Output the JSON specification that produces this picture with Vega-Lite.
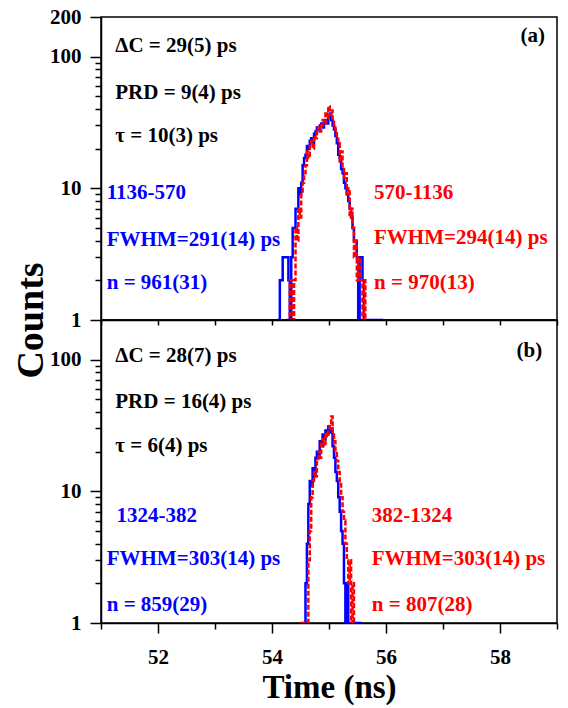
{
  "$schema": "https://vega.github.io/schema/vega-lite/v6.json",
  "padding": {"left": 11, "top": 5, "right": 8, "bottom": 2},
  "bounds": "flush",
  "spacing": 0,
  "config": {
    "font": "Liberation Serif",
    "view": {"stroke": "black", "strokeWidth": 1.5},
    "axis": {"grid": false, "domainColor": "black", "domainWidth": 1.5, "tickColor": "black", "tickWidth": 1.5, "labelFont": "Liberation Serif", "labelFontWeight": "bold", "labelFontSize": 21, "labelColor": "black", "titleFont": "Liberation Serif", "titleFontWeight": "bold", "titleFontSize": 33, "titleColor": "black", "labelOverlap": false, "labelFlush": false, "labelBound": false}
  },
  "datasets": {
    "top": [
      {"t":54.1,"c":1,"s":"1136-570"},{"t":54.125,"c":1,"s":"1136-570"},{"t":54.15,"c":2,"s":"1136-570"},{"t":54.175,"c":2,"s":"1136-570"},{"t":54.2,"c":3,"s":"1136-570"},{"t":54.225,"c":3,"s":"1136-570"},{"t":54.25,"c":3,"s":"1136-570"},{"t":54.275,"c":3,"s":"1136-570"},{"t":54.3,"c":2,"s":"1136-570"},{"t":54.325,"c":1,"s":"1136-570"},{"t":54.35,"c":3,"s":"1136-570"},{"t":54.375,"c":5,"s":"1136-570"},{"t":54.4,"c":5,"s":"1136-570"},{"t":54.425,"c":7,"s":"1136-570"},{"t":54.45,"c":7,"s":"1136-570"},{"t":54.475,"c":10,"s":"1136-570"},{"t":54.5,"c":9,"s":"1136-570"},{"t":54.525,"c":11,"s":"1136-570"},{"t":54.55,"c":15,"s":"1136-570"},{"t":54.575,"c":17,"s":"1136-570"},{"t":54.6,"c":18,"s":"1136-570"},{"t":54.625,"c":21,"s":"1136-570"},{"t":54.65,"c":20,"s":"1136-570"},{"t":54.675,"c":23,"s":"1136-570"},{"t":54.7,"c":24,"s":"1136-570"},{"t":54.725,"c":22,"s":"1136-570"},{"t":54.75,"c":26,"s":"1136-570"},{"t":54.775,"c":27,"s":"1136-570"},{"t":54.8,"c":29,"s":"1136-570"},{"t":54.825,"c":28,"s":"1136-570"},{"t":54.85,"c":30,"s":"1136-570"},{"t":54.875,"c":31,"s":"1136-570"},{"t":54.9,"c":29,"s":"1136-570"},{"t":54.925,"c":32,"s":"1136-570"},{"t":54.95,"c":33,"s":"1136-570"},{"t":54.975,"c":31,"s":"1136-570"},{"t":55.0,"c":35,"s":"1136-570"},{"t":55.025,"c":37,"s":"1136-570"},{"t":55.05,"c":33,"s":"1136-570"},{"t":55.075,"c":30,"s":"1136-570"},{"t":55.1,"c":28,"s":"1136-570"},{"t":55.125,"c":25,"s":"1136-570"},{"t":55.15,"c":22,"s":"1136-570"},{"t":55.175,"c":18,"s":"1136-570"},{"t":55.2,"c":17,"s":"1136-570"},{"t":55.225,"c":14,"s":"1136-570"},{"t":55.25,"c":13,"s":"1136-570"},{"t":55.275,"c":11,"s":"1136-570"},{"t":55.3,"c":10,"s":"1136-570"},{"t":55.325,"c":9,"s":"1136-570"},{"t":55.35,"c":8,"s":"1136-570"},{"t":55.375,"c":7,"s":"1136-570"},{"t":55.4,"c":6,"s":"1136-570"},{"t":55.425,"c":5,"s":"1136-570"},{"t":55.45,"c":4,"s":"1136-570"},{"t":55.475,"c":4,"s":"1136-570"},{"t":55.5,"c":3,"s":"1136-570"},{"t":55.525,"c":1,"s":"1136-570"},{"t":55.55,"c":3,"s":"1136-570"},{"t":55.575,"c":3,"s":"1136-570"},{"t":55.6,"c":2,"s":"1136-570"},{"t":55.625,"c":1,"s":"1136-570"},{"t":55.65,"c":1,"s":"1136-570"},{"t":55.8,"c":1,"s":"1136-570"},{"t":55.95,"c":1,"s":"1136-570"},
      {"t":54.25,"c":1,"s":"570-1136"},{"t":54.275,"c":1,"s":"570-1136"},{"t":54.3,"c":1,"s":"570-1136"},{"t":54.325,"c":2,"s":"570-1136"},{"t":54.35,"c":2,"s":"570-1136"},{"t":54.375,"c":1,"s":"570-1136"},{"t":54.4,"c":2,"s":"570-1136"},{"t":54.425,"c":5,"s":"570-1136"},{"t":54.45,"c":4,"s":"570-1136"},{"t":54.475,"c":7,"s":"570-1136"},{"t":54.5,"c":6,"s":"570-1136"},{"t":54.525,"c":9,"s":"570-1136"},{"t":54.55,"c":11,"s":"570-1136"},{"t":54.575,"c":13,"s":"570-1136"},{"t":54.6,"c":15,"s":"570-1136"},{"t":54.625,"c":19,"s":"570-1136"},{"t":54.65,"c":17,"s":"570-1136"},{"t":54.675,"c":21,"s":"570-1136"},{"t":54.7,"c":23,"s":"570-1136"},{"t":54.725,"c":20,"s":"570-1136"},{"t":54.75,"c":25,"s":"570-1136"},{"t":54.775,"c":24,"s":"570-1136"},{"t":54.8,"c":27,"s":"570-1136"},{"t":54.825,"c":29,"s":"570-1136"},{"t":54.85,"c":27,"s":"570-1136"},{"t":54.875,"c":30,"s":"570-1136"},{"t":54.9,"c":33,"s":"570-1136"},{"t":54.925,"c":31,"s":"570-1136"},{"t":54.95,"c":38,"s":"570-1136"},{"t":54.975,"c":34,"s":"570-1136"},{"t":55.0,"c":42,"s":"570-1136"},{"t":55.025,"c":36,"s":"570-1136"},{"t":55.05,"c":39,"s":"570-1136"},{"t":55.075,"c":32,"s":"570-1136"},{"t":55.1,"c":30,"s":"570-1136"},{"t":55.125,"c":27,"s":"570-1136"},{"t":55.15,"c":25,"s":"570-1136"},{"t":55.175,"c":22,"s":"570-1136"},{"t":55.2,"c":16,"s":"570-1136"},{"t":55.225,"c":19,"s":"570-1136"},{"t":55.25,"c":14,"s":"570-1136"},{"t":55.275,"c":12,"s":"570-1136"},{"t":55.3,"c":13,"s":"570-1136"},{"t":55.325,"c":9,"s":"570-1136"},{"t":55.35,"c":10,"s":"570-1136"},{"t":55.375,"c":6,"s":"570-1136"},{"t":55.4,"c":7,"s":"570-1136"},{"t":55.425,"c":5,"s":"570-1136"},{"t":55.45,"c":3,"s":"570-1136"},{"t":55.475,"c":4,"s":"570-1136"},{"t":55.5,"c":2,"s":"570-1136"},{"t":55.525,"c":3,"s":"570-1136"},{"t":55.55,"c":2,"s":"570-1136"},{"t":55.575,"c":2,"s":"570-1136"},{"t":55.6,"c":1,"s":"570-1136"},{"t":55.625,"c":2,"s":"570-1136"},{"t":55.65,"c":1,"s":"570-1136"}
    ],
    "bottom": [
      {"t":54.55,"c":1,"s":"1324-382"},{"t":54.575,"c":1,"s":"1324-382"},{"t":54.6,"c":2,"s":"1324-382"},{"t":54.625,"c":4,"s":"1324-382"},{"t":54.65,"c":8,"s":"1324-382"},{"t":54.675,"c":12,"s":"1324-382"},{"t":54.7,"c":11,"s":"1324-382"},{"t":54.725,"c":15,"s":"1324-382"},{"t":54.75,"c":13,"s":"1324-382"},{"t":54.775,"c":18,"s":"1324-382"},{"t":54.8,"c":20,"s":"1324-382"},{"t":54.825,"c":19,"s":"1324-382"},{"t":54.85,"c":24,"s":"1324-382"},{"t":54.875,"c":22,"s":"1324-382"},{"t":54.9,"c":27,"s":"1324-382"},{"t":54.925,"c":25,"s":"1324-382"},{"t":54.95,"c":29,"s":"1324-382"},{"t":54.975,"c":27,"s":"1324-382"},{"t":55.0,"c":31,"s":"1324-382"},{"t":55.025,"c":28,"s":"1324-382"},{"t":55.05,"c":30,"s":"1324-382"},{"t":55.075,"c":22,"s":"1324-382"},{"t":55.1,"c":18,"s":"1324-382"},{"t":55.125,"c":14,"s":"1324-382"},{"t":55.15,"c":12,"s":"1324-382"},{"t":55.175,"c":9,"s":"1324-382"},{"t":55.2,"c":7,"s":"1324-382"},{"t":55.225,"c":5,"s":"1324-382"},{"t":55.25,"c":4,"s":"1324-382"},{"t":55.275,"c":2,"s":"1324-382"},{"t":55.3,"c":1,"s":"1324-382"},{"t":55.325,"c":2,"s":"1324-382"},{"t":55.35,"c":1,"s":"1324-382"},{"t":55.575,"c":1,"s":"1324-382"},
      {"t":54.5,"c":1,"s":"382-1324"},{"t":54.625,"c":1,"s":"382-1324"},{"t":54.65,"c":3,"s":"382-1324"},{"t":54.675,"c":5,"s":"382-1324"},{"t":54.7,"c":9,"s":"382-1324"},{"t":54.725,"c":12,"s":"382-1324"},{"t":54.75,"c":14,"s":"382-1324"},{"t":54.775,"c":13,"s":"382-1324"},{"t":54.8,"c":17,"s":"382-1324"},{"t":54.825,"c":20,"s":"382-1324"},{"t":54.85,"c":18,"s":"382-1324"},{"t":54.875,"c":23,"s":"382-1324"},{"t":54.9,"c":25,"s":"382-1324"},{"t":54.925,"c":22,"s":"382-1324"},{"t":54.95,"c":28,"s":"382-1324"},{"t":54.975,"c":26,"s":"382-1324"},{"t":55.0,"c":30,"s":"382-1324"},{"t":55.025,"c":33,"s":"382-1324"},{"t":55.05,"c":37,"s":"382-1324"},{"t":55.075,"c":27,"s":"382-1324"},{"t":55.1,"c":24,"s":"382-1324"},{"t":55.125,"c":20,"s":"382-1324"},{"t":55.15,"c":17,"s":"382-1324"},{"t":55.175,"c":14,"s":"382-1324"},{"t":55.2,"c":12,"s":"382-1324"},{"t":55.225,"c":9,"s":"382-1324"},{"t":55.25,"c":7,"s":"382-1324"},{"t":55.275,"c":6,"s":"382-1324"},{"t":55.3,"c":4,"s":"382-1324"},{"t":55.325,"c":3,"s":"382-1324"},{"t":55.35,"c":2,"s":"382-1324"},{"t":55.375,"c":3,"s":"382-1324"},{"t":55.4,"c":1,"s":"382-1324"},{"t":55.425,"c":2,"s":"382-1324"},{"t":55.45,"c":1,"s":"382-1324"}
    ],
    "notesTop": [
      {"t":51.25,"c":120,"label":"ΔC = 29(5) ps","g":"summary"},
      {"t":51.25,"c":53,"label":"PRD = 9(4) ps","g":"summary"},
      {"t":51.25,"c":25,"label":"τ = 10(3) ps","g":"summary"},
      {"t":51.1,"c":9.2,"label":"1136-570","g":"blue"},
      {"t":51.1,"c":4.05,"label":"FWHM=291(14) ps","g":"blue"},
      {"t":51.1,"c":1.92,"label":"n = 961(31)","g":"blue"},
      {"t":55.79,"c":9.27,"label":"570-1136","g":"red"},
      {"t":55.79,"c":4.2,"label":"FWHM=294(14) ps","g":"red"},
      {"t":55.79,"c":1.92,"label":"n = 970(13)","g":"red"}
    ],
    "notesBottom": [
      {"t":51.25,"c":107,"label":"ΔC = 28(7) ps","g":"summary"},
      {"t":51.25,"c":47.5,"label":"PRD = 16(4) ps","g":"summary"},
      {"t":51.25,"c":22,"label":"τ = 6(4) ps","g":"summary"},
      {"t":51.27,"c":6.5,"label":"1324-382","g":"blue"},
      {"t":51.1,"c":3.06,"label":"FWHM=303(14) ps","g":"blue"},
      {"t":51.1,"c":1.37,"label":"n = 859(29)","g":"blue"},
      {"t":55.75,"c":6.5,"label":"382-1324","g":"red"},
      {"t":55.75,"c":3.06,"label":"FWHM=303(14) ps","g":"red"},
      {"t":55.75,"c":1.37,"label":"n = 807(28)","g":"red"}
    ]
  },
  "vconcat": [
    {
      "width": 456,
      "height": 303,
      "layer": [
        {
          "data": {"name": "top"},
          "transform": [{"filter": "datum.s == '1136-570'"}],
          "mark": {"type": "line", "interpolate": "step", "color": "#0000ff", "strokeWidth": 2.5, "clip": true},
          "encoding": {
            "x": {"field": "t", "type": "quantitative", "scale": {"domain": [51, 59], "nice": false, "zero": false},
                  "axis": {"values": [51,52,53,54,55,56,57,58,59], "labels": false, "tickSize": 5, "title": null}},
            "y": {"field": "c", "type": "quantitative", "scale": {"type": "log", "domain": [1, 200], "nice": false},
                  "axis": {"values": [1,2,3,4,5,6,7,8,9,10,20,30,40,50,60,70,80,90,100,200],
                           "labelExpr": "indexof([1,10,100,200], datum.value) >= 0 ? format(datum.value, 'd') : ''",
                           "tickSize": {"condition": {"test": "indexof([1,10,100,200], datum.value) >= 0", "value": 11}, "value": 6},
                           "labelPadding": 9,
                           "title": "Counts", "titleFontSize": 38, "titleX": -51, "titleY": 303}}
          }
        },
        {
          "data": {"name": "top"},
          "transform": [{"filter": "datum.s == '570-1136'"}],
          "mark": {"type": "line", "interpolate": "step", "color": "#ff0000", "strokeWidth": 2.5, "strokeDash": [5, 2], "clip": true},
          "encoding": {"x": {"field": "t", "type": "quantitative"}, "y": {"field": "c", "type": "quantitative"}}
        },
        {
          "data": {"name": "notesTop"},
          "mark": {"type": "text", "align": "left", "baseline": "middle", "font": "Liberation Serif", "fontWeight": "bold", "fontSize": 21},
          "encoding": {
            "x": {"field": "t", "type": "quantitative"},
            "y": {"field": "c", "type": "quantitative"},
            "text": {"field": "label"},
            "color": {"field": "g", "type": "nominal", "scale": {"domain": ["summary", "blue", "red"], "range": ["#000000", "#0000ff", "#ff0000"]}, "legend": null}
          }
        },
        {
          "data": {"values": [{"t": 58.79, "c": 144, "label": "(a)"}]},
          "mark": {"type": "text", "align": "right", "baseline": "middle", "font": "Liberation Serif", "fontWeight": "bold", "fontSize": 21, "color": "black"},
          "encoding": {"x": {"field": "t", "type": "quantitative"}, "y": {"field": "c", "type": "quantitative"}, "text": {"field": "label"}}
        }
      ]
    },
    {
      "width": 456,
      "height": 303,
      "layer": [
        {
          "data": {"name": "bottom"},
          "transform": [{"filter": "datum.s == '1324-382'"}],
          "mark": {"type": "line", "interpolate": "step", "color": "#0000ff", "strokeWidth": 2.5, "clip": true},
          "encoding": {
            "x": {"field": "t", "type": "quantitative", "scale": {"domain": [51, 59], "nice": false, "zero": false},
                  "axis": {"values": [51,52,53,54,55,56,57,58,59],
                           "labelExpr": "datum.value % 2 == 0 ? format(datum.value, 'd') : ''",
                           "tickSize": {"condition": {"test": "datum.value % 2 == 0", "value": 10}, "value": 6},
                           "labelPadding": 13, "title": "Time (ns)", "titlePadding": 4}},
            "y": {"field": "c", "type": "quantitative", "scale": {"type": "log", "domain": [1, 200], "nice": false},
                  "axis": {"values": [1,2,3,4,5,6,7,8,9,10,20,30,40,50,60,70,80,90,100],
                           "labelExpr": "indexof([1,10,100], datum.value) >= 0 ? format(datum.value, 'd') : ''",
                           "tickSize": {"condition": {"test": "indexof([1,10,100], datum.value) >= 0", "value": 11}, "value": 6},
                           "labelPadding": 9, "title": null}}
          }
        },
        {
          "data": {"name": "bottom"},
          "transform": [{"filter": "datum.s == '382-1324'"}],
          "mark": {"type": "line", "interpolate": "step", "color": "#ff0000", "strokeWidth": 2.5, "strokeDash": [5, 2], "clip": true},
          "encoding": {"x": {"field": "t", "type": "quantitative"}, "y": {"field": "c", "type": "quantitative"}}
        },
        {
          "data": {"name": "notesBottom"},
          "mark": {"type": "text", "align": "left", "baseline": "middle", "font": "Liberation Serif", "fontWeight": "bold", "fontSize": 21},
          "encoding": {
            "x": {"field": "t", "type": "quantitative"},
            "y": {"field": "c", "type": "quantitative"},
            "text": {"field": "label"},
            "color": {"field": "g", "type": "nominal", "scale": {"domain": ["summary", "blue", "red"], "range": ["#000000", "#0000ff", "#ff0000"]}, "legend": null}
          }
        },
        {
          "data": {"values": [{"t": 58.74, "c": 117, "label": "(b)"}]},
          "mark": {"type": "text", "align": "right", "baseline": "middle", "font": "Liberation Serif", "fontWeight": "bold", "fontSize": 21, "color": "black"},
          "encoding": {"x": {"field": "t", "type": "quantitative"}, "y": {"field": "c", "type": "quantitative"}, "text": {"field": "label"}}
        }
      ]
    }
  ]
}
